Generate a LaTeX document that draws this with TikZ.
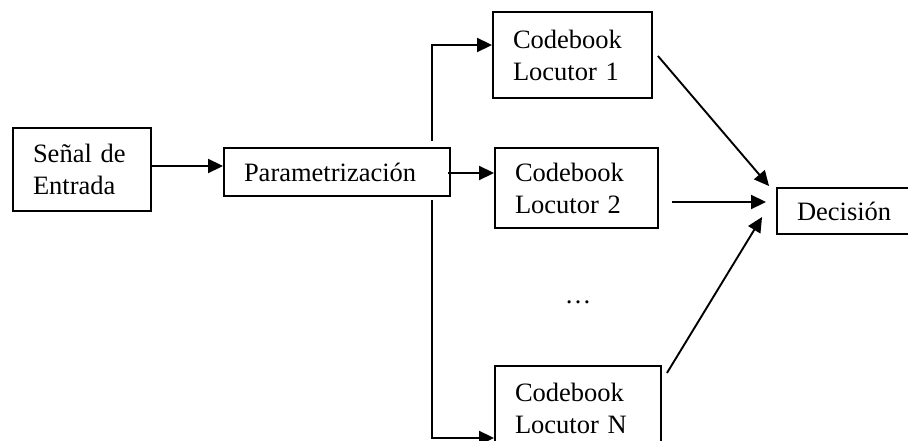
\documentclass[tikz,border=0pt]{standalone}
\usepackage{fontspec}
\setmainfont{Liberation Serif}
\usetikzlibrary{arrows.meta,calc}
\begin{document}
\begin{tikzpicture}[x=1pt,y=-1pt,
  blk/.style={draw,line width=1.9pt,align=left,inner xsep=20pt,inner ysep=0pt,
    font=\fontsize{26.5}{32}\selectfont},
  arr/.style={line width=1.9pt,-{Triangle[length=15pt,width=14pt]}}]
\clip (0,0) rectangle (908,441);
\node[blk,text width=98pt,minimum height=83pt] (sen) at (82,169.5) {Señal de\\Entrada};
\node[blk,text width=186pt,minimum height=48pt] (par) at (337,172) {Parametrización};
\node[blk,text width=119pt,minimum height=86pt] (cb1) at (572.5,55) {Codebook\\Locutor 1};
\node[blk,text width=123pt,minimum height=80pt] (cb2) at (576.5,188) {Codebook\\Locutor 2};
\node[blk,text width=126pt,minimum height=85pt] (cbn) at (578,408.5) {Codebook\\Locutor N};
\node[blk,text width=98pt,minimum height=46pt] (dec) at (846,211) {Decisión};
\node[anchor=base,font=\fontsize{26.5}{32}\selectfont] (dots) at (578,303) {…};
% connectors
\coordinate (s1) at ($(sen.east)+(0,-3.5)$);
\draw[arr] (s1) -- (par.west |- s1);
\coordinate (bt) at ($(par.north east)+(-19,-6)$);
\coordinate (bb) at ($(par.south east)+(-19,3)$);
\coordinate (t1) at ($(cb1.west)+(0,-10)$);
\draw[arr] (bt) |- (t1);
\coordinate (p2) at ($(par.east)+(-3,1)$);
\draw[arr] (p2) -- (cb2.west |- p2);
\coordinate (tn) at ($(cbn.west)+(0,29.5)$);
\draw[arr] (bb) |- (tn);
\draw[arr] ($(cb1.east)+(5,1)$) -- ($(dec.north west)+(-7,-1)$);
\draw[arr] ($(cb2.east)+(13,14)$) -- ($(dec.west)+(-10,-9)$);
\draw[arr] ($(cbn.east)+(5,-35.5)$) -- ($(dec.west)+(-14,6)$);
\end{tikzpicture}
\end{document}
